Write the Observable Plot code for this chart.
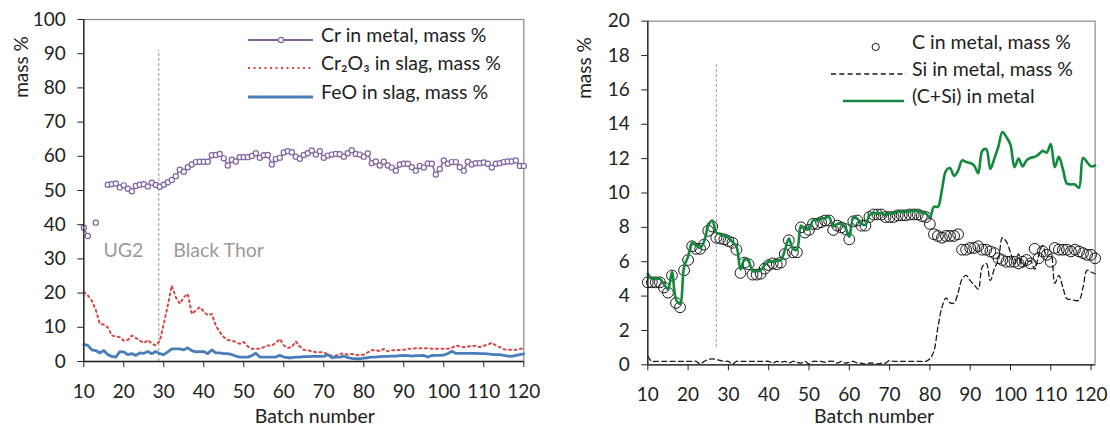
<!DOCTYPE html>
<html><head><meta charset="utf-8">
<script src="https://cdn.jsdelivr.net/npm/d3@7"></script>
<script src="https://cdn.jsdelivr.net/npm/@observablehq/plot@0.6"></script>
<style>
body{margin:0;background:#fff;}
#wrap{position:relative;width:1110px;height:427px;font-family:Lato,sans-serif;overflow:hidden;background:#fff}
.chart{position:absolute;top:0}
.leg{position:absolute;font-size:19.5px;color:#222;white-space:nowrap;line-height:20px;height:20px}
.sw{position:absolute;overflow:visible}
.ylab{position:absolute;font-size:19px;color:#222;white-space:nowrap;line-height:20px;transform:translate(-50%,-50%) rotate(-90deg)}
</style></head><body><div id="wrap"></div>
<script>
// ---------- LEFT CHART DATA (batch 10..120) ----------
const leftBatches = d3.range(10, 121);
const crInMetal = [39.1,36.7,null,40.6,null,null,51.7,51.85,52.05,50.9,
51.5,50.5,49.8,51.3,51.7,51.85,51.2,52.3,51.6,51.1,
51.7,52.4,53.1,54.2,56.1,55.5,56.8,57.6,58.3,58.4,
58.4,58.4,60.3,60.4,60.7,59.4,57.3,59.0,58.5,59.75,
59.75,59.75,60.1,60.9,59.55,60.3,60.4,57.6,59.2,59.55,
61.1,61.5,61.2,59.9,59.3,60.4,60.9,61.7,60.5,61.5,
59.55,60.2,60.5,60.7,60.6,59.9,60.9,61.8,60.7,60.5,
59.9,60.8,58.0,58.5,57.3,58.4,57.3,56.7,55.8,57.6,
57.8,57.8,56.8,55.8,57.2,56.7,57.9,57.8,54.7,56.3,
58.8,57.8,58.3,58.3,56.8,55.8,58.4,57.6,58.0,58.0,
58.2,57.8,56.7,57.8,58.0,58.3,58.5,58.5,58.8,57.2,
57.2];
const cr2o3InSlag = [20.3,19.3,17.8,15.1,11.0,10.8,10.0,7.6,7.3,7.1,
6.1,6.3,7.6,6.9,6.1,5.4,6.3,5.2,4.7,6.0,
11.0,16.4,22.2,18.8,16.9,18.8,19.8,13.9,14.9,15.9,
14.6,13.5,13.9,10.5,8.6,7.1,6.3,6.1,5.7,5.2,
5.7,4.4,3.7,3.7,3.7,4.2,4.7,4.7,5.4,6.6,
4.7,4.0,4.2,5.9,4.4,3.4,3.3,3.0,2.7,2.7,
2.7,2.0,1.7,1.7,2.2,2.4,2.0,2.2,1.9,1.9,
2.0,2.7,3.3,3.3,3.0,3.7,3.0,3.3,3.3,3.4,
3.4,3.7,3.7,3.9,3.9,3.9,3.9,3.7,3.7,3.7,
3.7,3.7,4.0,4.7,4.4,4.2,4.4,4.5,4.6,4.2,
4.6,4.9,5.5,4.7,4.2,3.6,3.4,3.4,3.4,3.7,
3.7];
const feoInSlag = [5.0,4.7,3.4,3.2,2.5,3.2,2.0,1.5,1.3,2.9,
2.8,2.0,2.3,1.8,2.5,2.4,2.9,2.3,2.9,2.3,
2.0,2.8,3.7,3.7,3.7,3.4,4.0,3.2,2.8,2.9,
2.9,2.3,3.4,2.5,2.5,2.3,2.3,2.0,1.6,1.3,
1.3,1.3,1.7,2.4,1.3,1.3,1.3,1.3,1.3,1.8,
1.3,1.1,1.1,1.3,1.3,1.4,1.4,1.5,1.5,1.5,
1.5,2.0,1.1,1.3,1.3,1.6,1.1,0.9,0.8,0.8,
1.0,1.1,1.3,1.3,1.4,1.5,1.5,1.6,1.6,1.7,
1.75,1.7,1.6,1.7,1.7,1.75,1.3,1.75,1.8,1.8,
1.9,2.3,3.0,2.4,2.4,2.4,2.4,2.4,2.4,2.3,
2.3,2.2,2.1,2.0,2.0,1.8,1.6,1.5,1.8,2.0,
2.2];
const leftXTicks = [10,20,30,40,50,60,70,80,90,100,110,120];
const leftYTicks = [0,10,20,30,40,50,60,70,80,90,100];
const leftDivider = [{b: 28.75, lo: 0, hi: 91}];
const leftNotes = [{b: 19.9, v: 32.5, label: "UG2"}, {b: 43.7, v: 32.5, label: "Black Thor"}];
const leftLegend = ["Cr in metal, mass %", "Cr\u2082O\u2083 in slag, mass %", "FeO in slag, mass %"];
const yTitle = "mass %", xTitle = "Batch number";

// ---------- RIGHT CHART DATA (batch 10..121) ----------
const rightBatches = d3.range(10, 122);
const cInMetal = [4.8,4.8,4.8,4.8,4.5,4.2,5.2,3.6,3.35,5.5,
6.1,6.9,6.75,6.75,7.0,7.8,8.05,7.4,7.35,7.3,
7.2,7.1,6.7,5.35,5.95,5.85,5.25,5.25,5.3,5.6,
5.8,5.9,5.85,5.95,6.45,7.25,6.55,6.55,8.0,7.7,
7.85,8.2,8.2,8.3,8.4,8.4,7.85,8.1,8.0,7.9,
7.3,8.35,8.4,8.1,8.1,8.6,8.75,8.75,8.75,8.6,
8.6,8.6,8.7,8.7,8.7,8.75,8.75,8.75,8.65,8.6,
8.2,7.6,7.5,7.4,7.5,7.5,7.5,7.6,6.7,6.7,
6.8,6.8,6.9,6.7,6.7,6.6,6.5,6.2,6.1,6.0,
6.0,6.0,5.9,6.0,6.1,5.9,6.75,6.2,6.6,6.4,
6.0,6.8,6.7,6.7,6.7,6.6,6.7,6.6,6.5,6.4,
6.4,6.2];
const siInMetal = [0.5,0.2,0.2,0.2,0.2,0.2,0.2,0.2,0.2,0.2,
0.2,0.2,0.2,0.05,0.2,0.3,0.35,0.3,0.25,0.2,
0.2,0.05,0.2,0.2,0.2,0.2,0.2,0.2,0.2,0.2,
0.2,0.1,0.2,0.15,0.2,0.1,0.2,0.15,0.1,0.2,
0.05,0.2,0.2,0.2,0.15,0.2,0.2,0.1,0.2,0.1,
0.15,0.2,0.1,0.1,0.05,0.1,0.1,0.05,0.1,0.1,
0.25,0.2,0.2,0.2,0.2,0.2,0.2,0.2,0.2,0.2,
0.35,0.8,2.2,3.35,3.9,3.6,3.6,4.2,5.0,5.2,
4.9,4.65,4.4,5.7,5.9,4.9,5.6,6.1,7.4,7.15,
6.55,5.9,6.45,5.7,5.95,6.05,5.55,6.35,6.95,6.3,
6.45,4.75,5.2,4.5,3.85,3.8,3.75,3.75,4.5,5.5,
5.4,5.3];
const cPlusSi = [5.3,5.0,5.0,5.0,4.7,4.4,5.4,3.8,3.55,5.7,
6.3,7.1,6.95,6.8,7.2,8.1,8.4,7.7,7.6,7.5,
7.4,7.15,6.9,5.55,6.15,6.05,5.45,5.45,5.5,5.8,
6.0,6.0,6.05,6.1,6.65,7.35,6.75,6.7,8.1,7.9,
7.9,8.4,8.4,8.5,8.55,8.6,8.05,8.2,8.2,8.0,
7.45,8.55,8.5,8.2,8.15,8.7,8.85,8.8,8.85,8.7,
8.85,8.8,8.9,8.9,8.9,8.95,8.95,8.95,8.85,8.8,
8.6,9.2,9.2,10.2,11.3,11.45,11.0,11.3,11.9,11.8,
11.75,11.6,11.15,12.45,12.55,11.4,12.0,12.7,13.55,13.25,
12.8,11.5,12.0,11.55,11.9,12.05,12.1,12.25,12.45,12.35,
12.85,11.5,12.1,11.4,10.55,10.5,10.5,10.3,12.05,11.8,
11.55,11.6];
const rightXTicks = [10,20,30,40,50,60,70,80,90,100,110,120];
const rightYTicks = [0,2,4,6,8,10,12,14,16,18,20];
const rightDivider = [{b: 27, lo: 1, hi: 17.5}];
const rightLegend = ["C in metal, mass %", "Si in metal, mass %", "(C+Si) in metal"];

// ---------- COLOURS ----------
const purple = "#8064A2", red = "#D24A45", blue = "#4A7EBB", green = "#12893C";

const toRows = (bs, vs) => bs.map((b, i) => ({b, v: vs[i]}));
const crRows = toRows(leftBatches, crInMetal);
const cr2Rows = toRows(leftBatches, cr2o3InSlag);
const feoRows = toRows(leftBatches, feoInSlag);
const cRows = toRows(rightBatches, cInMetal);
const siRows = toRows(rightBatches, siInMetal);
const csRows = toRows(rightBatches, cPlusSi);

const baseStyle = {fontFamily: "Lato, sans-serif", fontSize: "19px", color: "#222", background: "transparent", overflow: "visible"};

const left = Plot.plot({
  width: 555, height: 427,
  marginLeft: 83.3, marginRight: 31.7, marginTop: 19, marginBottom: 66,
  style: baseStyle,
  x: {domain: [10, 120]},
  y: {domain: [0, 100]},
  marks: [
    Plot.frame({stroke: "#8a8a8a", strokeWidth: 1.2}),
    Plot.ruleX(leftDivider, {x: "b", y1: "lo", y2: "hi", stroke: "#999", strokeWidth: 1, strokeDasharray: "3,2"}),
    Plot.text(leftNotes, {x: "b", y: "v", text: "label", fill: "#9a9a9a", fontSize: 19.5}),
    Plot.line(crRows, {x: "b", y: "v", stroke: purple, strokeWidth: 1.5}),
    Plot.dot(crRows, {x: "b", y: "v", r: 2.6, stroke: purple, fill: "white", strokeWidth: 1.2}),
    Plot.line(cr2Rows, {x: "b", y: "v", stroke: red, strokeWidth: 2, strokeDasharray: "2,3.5"}),
    Plot.line(feoRows, {x: "b", y: "v", stroke: blue, strokeWidth: 2.8}),
    Plot.ruleY([0], {stroke: "#222", strokeWidth: 1.3}),
    Plot.ruleX([10], {stroke: "#222", strokeWidth: 1.3}),
    Plot.axisY({ticks: leftYTicks, tickSize: 6, tickPadding: 12, label: null, stroke: "#222", fontSize: 19}),
    Plot.axisX({ticks: leftXTicks, tickSize: 6, tickPadding: 17, label: null, tickFormat: d => d, stroke: "#222", fontSize: 19}),
    Plot.text([xTitle], {frameAnchor: "bottom", lineAnchor: "middle", dx: 11, dy: 55, fontSize: 19.5, fill: "#222"})
  ]
});

const right = Plot.plot({
  width: 555, height: 427,
  marginLeft: 92.3, marginRight: 15.4, marginTop: 20.7, marginBottom: 62.7,
  style: baseStyle,
  x: {domain: [10, 121]},
  y: {domain: [0, 20]},
  marks: [
    Plot.frame({stroke: "#8a8a8a", strokeWidth: 1.2}),
    Plot.ruleX(rightDivider, {x: "b", y1: "lo", y2: "hi", stroke: "#999", strokeWidth: 1, strokeDasharray: "3,2"}),
    Plot.dot(cRows, {x: "b", y: "v", r: 5.4, stroke: "#1a1a1a", fill: "none", strokeWidth: 1}),
    Plot.line(siRows, {x: "b", y: "v", stroke: "#1a1a1a", strokeWidth: 1.3, strokeDasharray: "5,3.3", curve: "catmull-rom"}),
    Plot.line(csRows, {x: "b", y: "v", stroke: green, strokeWidth: 2.6, curve: "catmull-rom"}),
    Plot.ruleY([0], {stroke: "#222", strokeWidth: 1.3}),
    Plot.ruleX([10], {stroke: "#222", strokeWidth: 1.3}),
    Plot.axisY({ticks: rightYTicks, tickSize: 6, tickPadding: 12, label: null, stroke: "#222", fontSize: 19}),
    Plot.axisX({ticks: rightXTicks, tickSize: 6, tickPadding: 17, label: null, tickFormat: d => d, stroke: "#222", fontSize: 19}),
    Plot.text([xTitle], {frameAnchor: "bottom", lineAnchor: "middle", dx: 2.6, dy: 51.7, fontSize: 19.5, fill: "#222"})
  ]
});

const wrap = document.getElementById("wrap");
left.classList.add("chart"); left.style.left = "0px";
right.classList.add("chart"); right.style.left = "555px";
wrap.appendChild(left); wrap.appendChild(right);

// ---------- AXIS TITLES (Y) ----------
function yLabel(cx, cy) {
  const d = document.createElement("div");
  d.className = "ylab";
  d.style.left = cx + "px"; d.style.top = cy + "px";
  d.textContent = yTitle;
  wrap.appendChild(d);
}
yLabel(20.7, 67);
yLabel(584, 68);

// ---------- LEGENDS (HTML overlays) ----------
function legendItem(textX, rowY, label, swatchSvg, swX, swW) {
  const sw = document.createElement("div");
  sw.className = "sw";
  sw.style.left = swX + "px"; sw.style.top = (rowY - 6) + "px";
  sw.innerHTML = `<svg width="${swW}" height="12" style="overflow:visible">${swatchSvg}</svg>`;
  wrap.appendChild(sw);
  const t = document.createElement("div");
  t.className = "leg";
  t.style.left = textX + "px"; t.style.top = (rowY - 11) + "px";
  t.textContent = label;
  wrap.appendChild(t);
}
legendItem(321, 36, leftLegend[0], `<line x1="0" x2="65" y1="6" y2="6" stroke="${purple}" stroke-width="2"/><circle cx="33" cy="6" r="2.6" fill="white" stroke="${purple}" stroke-width="1.2"/>`, 248, 65);
legendItem(321, 64, leftLegend[1], `<line x1="0" x2="65" y1="6" y2="6" stroke="${red}" stroke-width="2" stroke-dasharray="2,3.5"/>`, 248, 65);
legendItem(321, 92.7, leftLegend[2], `<line x1="0" x2="65" y1="6" y2="6" stroke="${blue}" stroke-width="2.8"/>`, 248, 65);
legendItem(912, 42.7, rightLegend[0], `<circle cx="44.7" cy="6" r="3.6" fill="none" stroke="#1a1a1a" stroke-width="1"/>`, 831, 75);
legendItem(912, 70, rightLegend[1], `<line x1="0" x2="75" y1="6" y2="6" stroke="#1a1a1a" stroke-width="1.3" stroke-dasharray="5,3.3"/>`, 831, 75);
legendItem(912, 97.3, rightLegend[2], `<line x1="12" x2="73" y1="6" y2="6" stroke="${green}" stroke-width="2.6"/>`, 831, 75);
</script>
</body></html>
